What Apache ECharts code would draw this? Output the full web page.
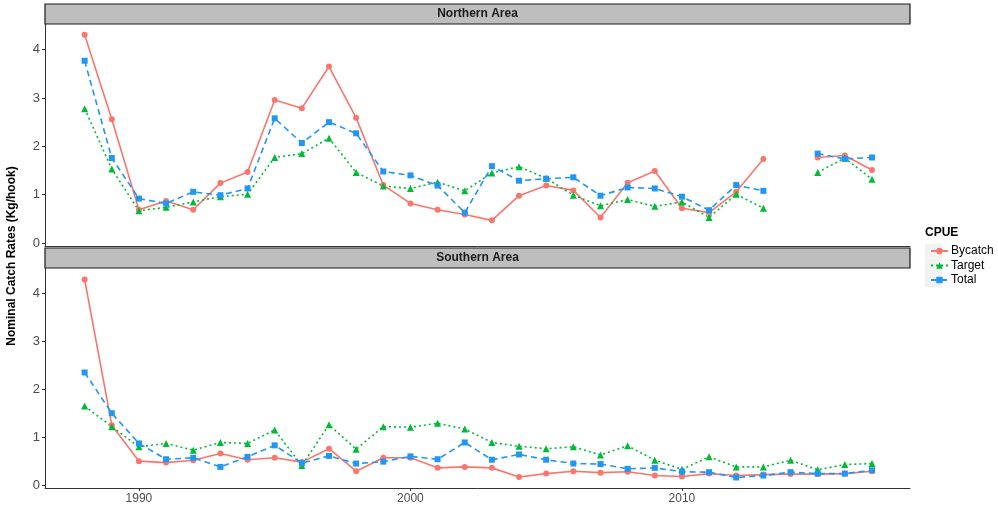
<!DOCTYPE html>
<html>
<head>
<meta charset="utf-8">
<script src="https://cdn.jsdelivr.net/npm/echarts@6/dist/echarts.min.js"></script>
<style>html,body{margin:0;padding:0;background:#fff}#c{width:998px;height:508px}</style>
</head>
<body>
<div id="c"></div>
<script>
const years = [1988,1989,1990,1991,1992,1993,1994,1995,1996,1997,1998,1999,2000,2001,2002,2003,2004,2005,2006,2007,2008,2009,2010,2011,2012,2013,2014,2015,2016,2017];
const northBycatch = [4.31,2.56,0.69,0.87,0.69,1.24,1.47,2.96,2.79,3.65,2.59,1.20,0.82,0.69,0.59,0.47,0.98,1.19,1.09,0.53,1.25,1.49,0.72,0.63,1.06,1.74,null,1.77,1.81,1.51];
const northTarget  = [2.78,1.53,0.67,0.74,0.85,0.96,1.01,1.77,1.85,2.17,1.46,1.18,1.13,1.26,1.08,1.45,1.58,1.34,0.99,0.77,0.90,0.76,0.85,0.53,1.01,0.72,null,1.46,1.76,1.32];
const northTotal   = [3.77,1.76,0.92,0.82,1.06,0.99,1.13,2.58,2.07,2.50,2.27,1.48,1.40,1.19,0.63,1.59,1.29,1.33,1.36,0.98,1.15,1.13,0.96,0.68,1.20,1.08,null,1.85,1.74,1.77];
const southBycatch = [4.29,1.25,0.50,0.47,0.52,0.66,0.53,0.57,0.48,0.76,0.29,0.57,0.57,0.36,0.38,0.36,0.17,0.24,0.29,0.26,0.28,0.20,0.18,0.24,0.20,0.22,0.23,0.23,0.24,0.29];
const southTarget  = [1.65,1.22,0.80,0.87,0.73,0.89,0.87,1.15,0.41,1.26,0.75,1.22,1.21,1.29,1.17,0.89,0.81,0.76,0.80,0.63,0.82,0.52,0.33,0.59,0.38,0.38,0.52,0.32,0.43,0.45];
const southTotal   = [2.35,1.50,0.87,0.54,0.57,0.38,0.59,0.83,0.46,0.61,0.45,0.49,0.60,0.54,0.89,0.53,0.64,0.53,0.45,0.44,0.34,0.36,0.28,0.27,0.16,0.20,0.27,0.24,0.24,0.31];
const panelNames = ['Northern Area','Southern Area'];
const seriesNames = ['Bycatch','Target','Total'];
const xTicks = [1990,2000,2010];
const yTicks = [0,1,2,3,4];

const colors = {Bycatch:'#F8766D', Target:'#00BA38', Total:'#2196F3'};
const symbols = {Bycatch:'circle', Target:'triangle', Total:'rect'};
const symSize = {Bycatch:6, Target:7, Total:6};
const lineType = {Bycatch:'solid', Target:[2,3], Total:[6,4]};

const L = 45, R = 910;
const panels = [{top:24, bottom:246, stripTop:4}, {top:268, bottom:488, stripTop:248}];
const FONT = 'Liberation Sans, Arial, sans-serif';

const grids = panels.map(p => ({left:L, top:p.top, width:R-L, height:p.bottom-p.top, containLabel:false}));
const xAxes = panels.map((p,i) => ({
  type:'value', gridIndex:i, min:1986.54, max:2018.40,
  splitLine:{show:false},
  axisLine:{show:true, onZero:false, lineStyle:{color:'#333', width:1}},
  axisTick:{show:i===1, length:3, lineStyle:{color:'#333'}, customValues:xTicks},
  axisLabel:{show:i===1, color:'#4d4d4d', fontSize:12, fontFamily:FONT, margin:5, customValues:xTicks,
    formatter: v => String(v)}
}));
const yAxes = panels.map((p,i) => ({
  type:'value', gridIndex:i, min:-0.06, max:4.53,
  splitLine:{show:false},
  axisLine:{show:true, onZero:false, lineStyle:{color:'#333', width:1}},
  axisTick:{show:true, length:3, lineStyle:{color:'#333'}, customValues:yTicks},
  axisLabel:{color:'#4d4d4d', fontSize:13, fontFamily:FONT, margin:5, customValues:yTicks}
}));

const dataSets = [
  {Bycatch:northBycatch, Target:northTarget, Total:northTotal},
  {Bycatch:southBycatch, Target:southTarget, Total:southTotal}
];
const series = [];
dataSets.forEach((ds, gi) => {
  seriesNames.forEach(n => {
    series.push({
      name:n, type:'line', xAxisIndex:gi, yAxisIndex:gi,
      data: years.map((y,k) => [y, ds[n][k] == null ? '-' : ds[n][k]]),
      symbol:symbols[n], symbolSize:symSize[n], showSymbol:true,
      connectNulls:false, animation:false,
      itemStyle:{color:colors[n]},
      lineStyle:{color:colors[n], width:1.6, type:lineType[n]}
    });
  });
});

const graphic = [];
panels.forEach((p,i) => {
  graphic.push({type:'rect', shape:{x:L, y:p.stripTop, width:R-L, height:20},
    style:{fill:'#bebebe', stroke:'#1a1a1a', lineWidth:1.2}, z:10});
  graphic.push({type:'text', x:(L+R)/2, y:p.stripTop+10,
    style:{text:panelNames[i], fill:'#1a1a1a', font:'bold 12px '+FONT, align:'center', verticalAlign:'middle'}, z:11});
});
graphic.push({type:'text', x:12, y:256, rotation:Math.PI/2,
  style:{text:'Nominal Catch Rates (Kg/hook)', fill:'#000', font:'bold 12px '+FONT, align:'center', verticalAlign:'middle'}});
graphic.push({type:'text', x:925, y:233,
  style:{text:'CPUE', fill:'#000', font:'bold 12px '+FONT, align:'left', verticalAlign:'middle'}});
[0,1,2].forEach(k => {
  graphic.push({type:'rect', shape:{x:925, y:244+k*14.5, width:17, height:14.5}, style:{fill:'#f2f2f2'}, z:0});
});

const option = {
  backgroundColor:'#fff',
  animation:false,
  grid:grids, xAxis:xAxes, yAxis:yAxes, series:series,
  legend:{
    data:seriesNames, orient:'vertical', left:925, top:240,
    itemWidth:17, itemHeight:8, itemGap:2.5,
    textStyle:{color:'#000', fontSize:12, fontFamily:FONT, padding:[0,0,0,-2]},
    selectedMode:false
  },
  graphic:graphic
};
echarts.init(document.getElementById('c'), null, {renderer:'canvas'}).setOption(option);
</script>
</body>
</html>
